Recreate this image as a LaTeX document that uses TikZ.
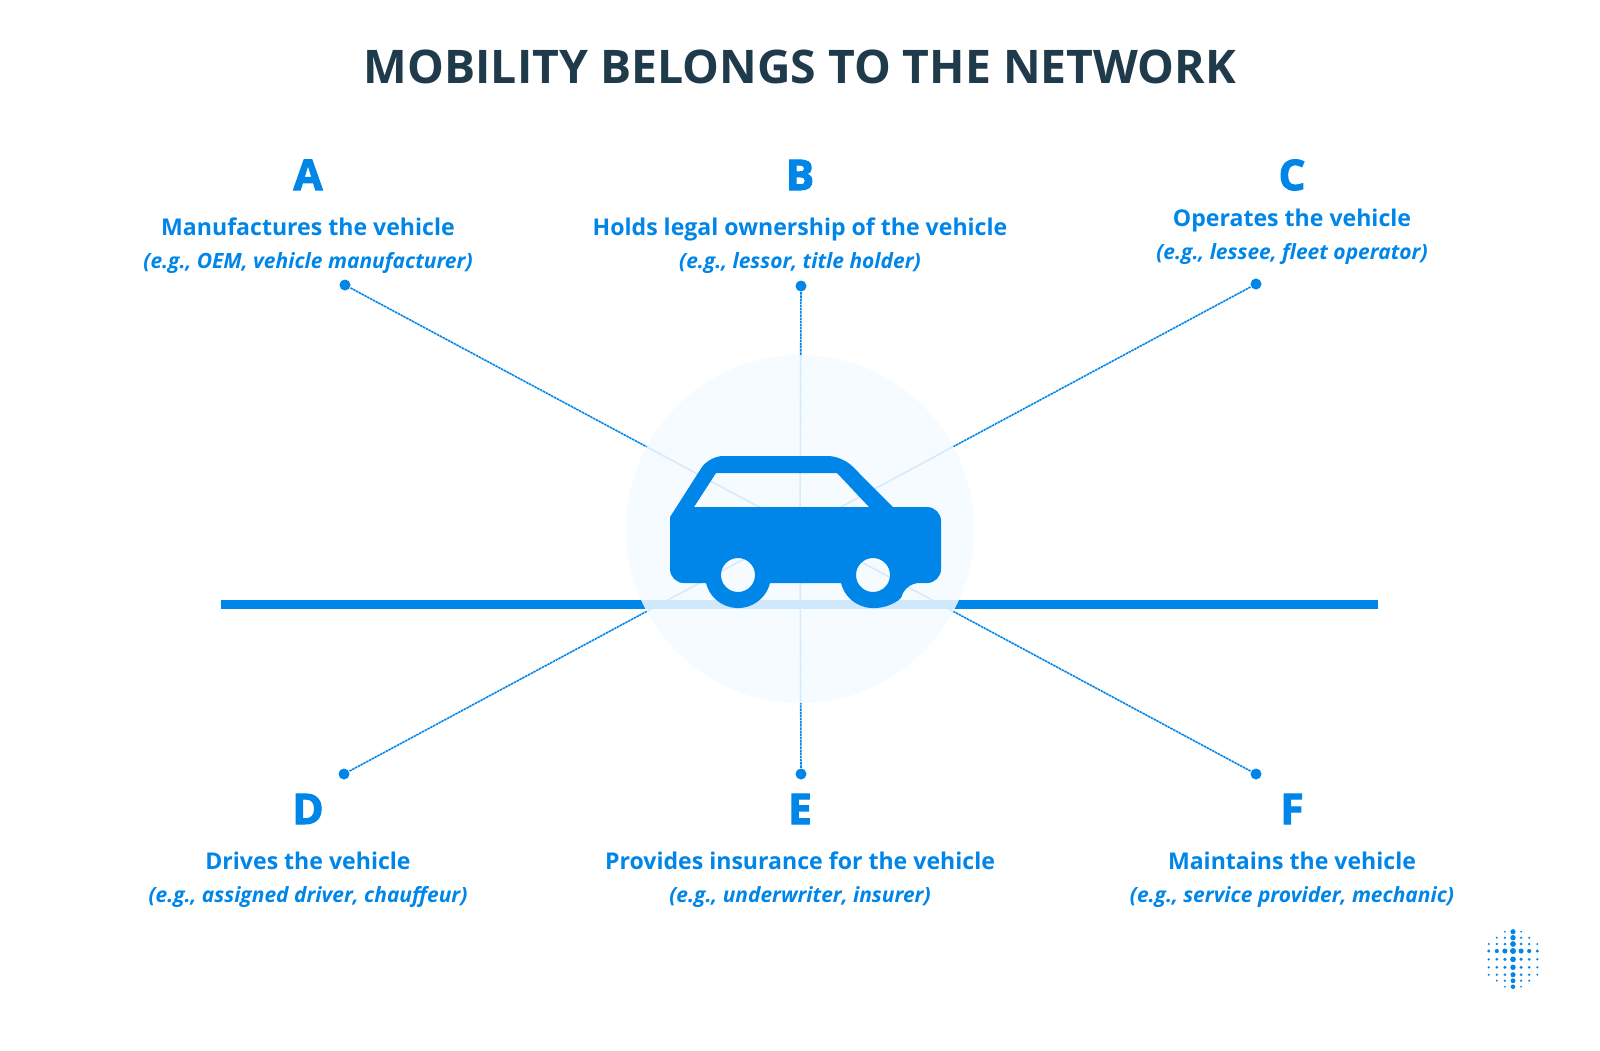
\documentclass[tikz,border=0pt]{standalone}
\usepackage{fontspec}
\setmainfont{Open Sans}
\newfontfamily\heavyfont[BoldFeatures={FakeBold=2.5}]{Open Sans}
\definecolor{carblue}{HTML}{0085E8}
\definecolor{titledark}{HTML}{1F3A4B}
\definecolor{halofill}{HTML}{F4FAFF}
\usetikzlibrary{positioning}

\begin{document}
\begin{tikzpicture}[
    titletext/.style={text=titledark, font=\fontsize{13.18}{16}\selectfont\bfseries},
    lettertext/.style={text=carblue, font=\fontsize{12}{14}\selectfont\heavyfont\bfseries, text height=0.3cm, text depth=0cm, inner sep=0pt},
    roletext/.style={text=carblue, font=\fontsize{6.57}{8}\selectfont\bfseries, text height=0.18cm, text depth=0.05cm, inner sep=0pt},
    exampletext/.style={text=carblue, font=\fontsize{5.97}{8}\selectfont\bfseries\itshape, text height=0.18cm, text depth=0.05cm, inner sep=0pt},
    enddot/.style={circle, fill=carblue, inner sep=0pt, minimum size=0.11cm},
    spoke/.style={carblue, line width=0.45pt, dash pattern=on 0.7pt off 0.2pt}
    ]
        \useasboundingbox (0,0) rectangle (16,-10.5);

        \node[titletext] (title) at (8,-0.665) {MOBILITY BELONGS TO THE NETWORK};

        \node[lettertext] (A) at (3.08,-1.75) {A};
        \node[lettertext, right of=A, node distance=4.92cm] (B) {B};
        \node[lettertext, right of=B, node distance=4.92cm] (C) {C};
        \node[lettertext] (D) at (3.08,-8.09) {D};
        \node[lettertext, right of=D, node distance=4.92cm] (E) {E};
        \node[lettertext, right of=E, node distance=4.92cm] (F) {F};

        \node[roletext, below of=A, node distance=0.535cm] (A1) {Manufactures the vehicle};
        \node[roletext, below of=B, node distance=0.535cm] (B1) {Holds legal ownership of the vehicle};
        \node[roletext, below of=C, node distance=0.445cm] (C1) {Operates the vehicle};
        \node[roletext, below of=D, node distance=0.535cm] (D1) {Drives the vehicle};
        \node[roletext, below of=E, node distance=0.535cm] (E1) {Provides insurance for the vehicle};
        \node[roletext, below of=F, node distance=0.535cm] (F1) {Maintains the vehicle};

        \node[exampletext, below of=A1, node distance=0.33cm] (A2) {(e.g., OEM, vehicle manufacturer)};
        \node[exampletext, below of=B1, node distance=0.33cm] (B2) {(e.g., lessor, title holder)};
        \node[exampletext, below of=C1, node distance=0.335cm] (C2) {(e.g., lessee, fleet operator)};
        \node[exampletext, below of=D1, node distance=0.335cm] (D2) {(e.g., assigned driver, chauffeur)};
        \node[exampletext, below of=E1, node distance=0.335cm] (E2) {(e.g., underwriter, insurer)};
        \node[exampletext, below of=F1, node distance=0.335cm] (F2) {(e.g., service provider, mechanic)};

        \node[enddot] (dotA) at (3.45,-2.85) {};
        \node[enddot] (dotB) at (8.01,-2.86) {};
        \node[enddot] (dotC) at (12.56,-2.84) {};
        \node[enddot] (dotD) at (3.44,-7.74) {};
        \node[enddot] (dotE) at (8.01,-7.74) {};
        \node[enddot] (dotF) at (12.56,-7.74) {};

        \coordinate (hub) at (8.0,-5.29);
        \coordinate (roadL) at (2.21,-6.045);
        \coordinate (roadR) at (13.78,-6.045);

        % Draw spokes and road, the halo pales them
        \draw[spoke] (dotA) -- (hub);
        \draw[spoke] (dotB) -- (hub);
        \draw[spoke] (dotC) -- (hub);
        \draw[spoke] (dotD) -- (hub);
        \draw[spoke] (dotE) -- (hub);
        \draw[spoke] (dotF) -- (hub);
        \draw[carblue, line width=2.5pt] (roadL) -- (roadR);

        \fill[halofill, opacity=0.85] (8.0,-5.29) circle (1.74);

        % Draw the car
        \fill[carblue, even odd rule]
            [rounded corners=0.14cm] (7.06,-5.83) -- (6.70,-5.83)
            [sharp corners] -- (6.70,-5.17)
            [rounded corners=0.14cm] -- (7.09,-4.56) -- (8.42,-4.56)
            [sharp corners] -- (8.93,-5.07)
            [rounded corners=0.14cm] -- (9.41,-5.07) -- (9.41,-5.83) -- (9.05,-5.83)
            [sharp corners] arc[start angle=-14, end angle=-166, radius=0.33] -- (7.70,-5.83)
            arc[start angle=-14, end angle=-166, radius=0.33] -- cycle
            (6.94,-5.07) -- (7.16,-4.73) -- (8.37,-4.73) -- (8.69,-5.07) -- cycle
            (7.38,-5.75) circle (0.17)
            (8.73,-5.75) circle (0.17);

        % Draw the corner mark
        \foreach \row/\w/\ypos in {0/1/9.317, 1/2/9.377, 2/3/9.44, 3/3/9.51, 4/3/9.593, 5/3/9.673, 6/3/9.747, 7/2/9.807, 8/1/9.867}{
            \foreach \col in {-\w,...,\w}{
                \pgfmathsetmacro{\dotsize}{(\col==0) ? 0.03-0.0014*abs(\row-3) : ((\row==3) ? 0.03-0.0045*abs(\col) : 0.02-0.0025*veclen(\col,\row-4))}
                \fill[carblue] ({15.13+0.081*\col},-\ypos) circle (\dotsize);
            }
        }
\end{tikzpicture}
\end{document}
